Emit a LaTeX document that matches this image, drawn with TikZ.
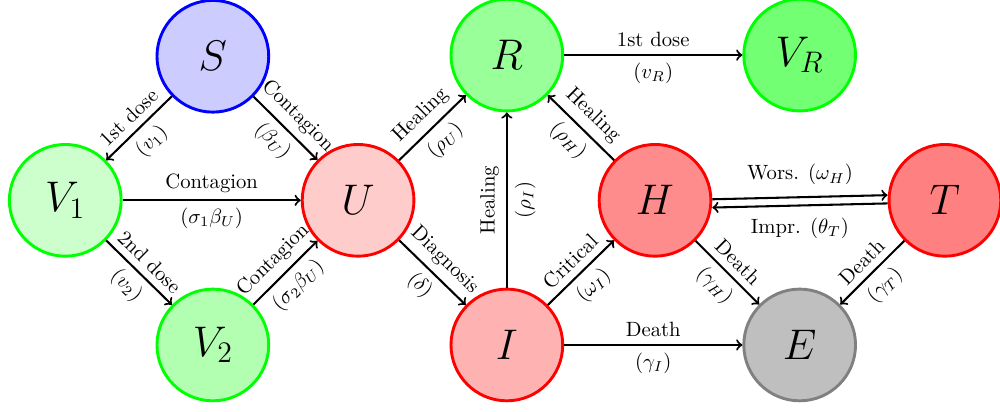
\documentclass[tikz,border=0pt]{standalone}
\begin{document}
\begin{tikzpicture}[
  comp/.style={circle,line width=1.4pt,minimum size=1.9cm,inner sep=0pt,font=\huge},
  flow/.style={->,line width=1pt},
  lab/.style={sloped,font=\normalsize}]
  \useasboundingbox (0,0) rectangle (17.007,7.007);
  % compartments
  \node[comp,draw=blue,fill=blue!20] (S) at (3.62,6.05) {$S$};
  \node[comp,draw=green,fill=green!20] (V1) at (1.11,3.6) {$V_1$};
  \node[comp,draw=red,fill=red!20] (U) at (6.09,3.6) {$U$};
  \node[comp,draw=green,fill=green!30] (V2) at (3.62,1.14) {$V_2$};
  \node[comp,draw=green,fill=green!40] (R) at (8.62,6.07) {$R$};
  \node[comp,draw=green,fill=green!55] (VR) at (13.6,6.07) {$V_R$};
  \node[comp,draw=red,fill=red!45] (H) at (11.14,3.6) {$H$};
  \node[comp,draw=red,fill=red!50] (T) at (16.07,3.6) {$T$};
  \node[comp,draw=red,fill=red!30] (I) at (8.62,1.14) {$I$};
  \node[comp,draw=gray,fill=gray!50] (E) at (13.6,1.14) {$E$};
  % flows
  \draw[flow] (S) -- node[lab,above]{1st dose} node[lab,below]{$(v_1)$} (V1);
  \draw[flow] (S) -- node[lab,above]{Contagion} node[lab,below]{$(\beta_U)$} (U);
  \draw[flow] (V1) -- node[lab,above]{Contagion} node[lab,below]{$(\sigma_1\beta_U)$} (U);
  \draw[flow] (V1) -- node[lab,above]{2nd dose} node[lab,below]{$(v_2)$} (V2);
  \draw[flow] (V2) -- node[lab,above]{Contagion} node[lab,below]{$(\sigma_2\beta_U)$} (U);
  \draw[flow] (U) -- node[lab,above]{Healing} node[lab,below]{$(\rho_U)$} (R);
  \draw[flow] (U) -- node[lab,above]{Diagnosis} node[lab,below]{$(\delta)$} (I);
  \draw[flow] (I) -- node[lab,above]{Healing} node[lab,below]{$(\rho_I)$} (R);
  \draw[flow] (I) -- node[lab,above]{Critical} node[lab,below]{$(\omega_I)$} (H);
  \draw[flow] (H) -- node[lab,above]{Healing} node[lab,below]{$(\rho_H)$} (R);
  \draw[flow] (R) -- node[lab,above]{1st dose} node[lab,below]{$(v_R)$} (VR);
  \draw[flow] ([yshift=0.5pt]H.east) -- node[above=2pt]{Wors. $(\omega_H)$} ([yshift=2.5pt]T.west);
  \draw[flow] ([yshift=-1.5pt]T.west) -- node[below=2pt]{Impr. $(\theta_T)$} ([yshift=-3.5pt]H.east);
  \draw[flow] (H) -- node[lab,above]{Death} node[lab,below]{$(\gamma_H)$} (E);
  \draw[flow] (T) -- node[lab,above]{Death} node[lab,below]{$(\gamma_T)$} (E);
  \draw[flow] (I) -- node[lab,above]{Death} node[lab,below]{$(\gamma_I)$} (E);
\end{tikzpicture}
\end{document}
